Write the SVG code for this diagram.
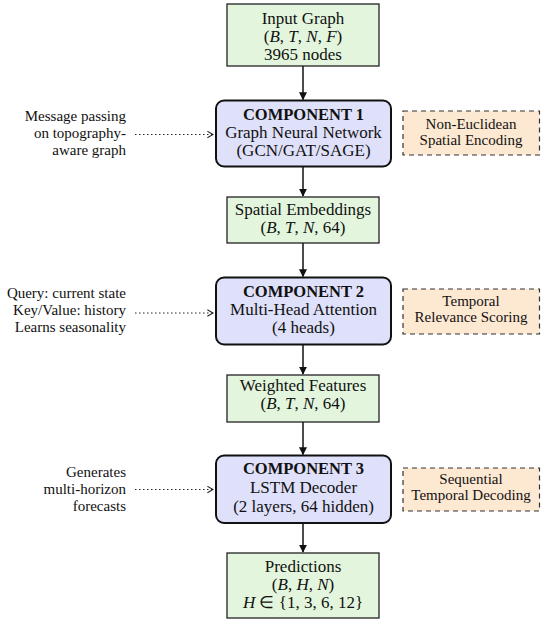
<svg xmlns="http://www.w3.org/2000/svg" width="550" height="627" viewBox="0 0 550 627">
<defs>
<style>
text{font-family:"Liberation Serif","Times New Roman",serif;fill:#111;}
.c{text-anchor:middle;font-size:17px;}
.b{font-weight:bold;font-size:16.5px;}
.s{text-anchor:middle;font-size:15px;}
.l{text-anchor:end;font-size:15px;}
.i{font-style:italic;}
.data{fill:#e3f6dd;stroke:#222;stroke-width:1.3;}
.comp{fill:#dfe0fa;stroke:#111;stroke-width:2;}
.note{fill:#fde8d2;stroke:#333;stroke-width:1.2;stroke-dasharray:5,4;}
.arr{stroke:#111;stroke-width:1.5;fill:none;marker-end:url(#ah);}
.dot{stroke:#222;stroke-width:1;stroke-dasharray:1.5,2.5;fill:none;marker-end:url(#oh);}
</style>
<marker id="ah" viewBox="0 0 10 10" refX="9" refY="5" markerWidth="8" markerHeight="8" markerUnits="userSpaceOnUse" orient="auto"><path d="M0,0 L10,5 L0,10 z" fill="#111"/></marker>
<marker id="oh" viewBox="0 0 10 10" refX="9" refY="5" markerWidth="8" markerHeight="8" markerUnits="userSpaceOnUse" orient="auto"><path d="M2,1 L9,5 L2,9" fill="none" stroke="#222" stroke-width="1.3"/></marker>
</defs>
<g id="connectors">
<line class="arr" x1="303" y1="66" x2="303" y2="99.5"/>
<line class="arr" x1="303" y1="166.5" x2="303" y2="196"/>
<line class="arr" x1="303" y1="243" x2="303" y2="276.5"/>
<line class="arr" x1="303" y1="344.5" x2="303" y2="374"/>
<line class="arr" x1="303" y1="422" x2="303" y2="454.5"/>
<line class="arr" x1="303" y1="523" x2="303" y2="552"/>
<line class="dot" x1="135" y1="134.5" x2="213" y2="134.5"/>
<line class="dot" x1="135" y1="313" x2="213" y2="313"/>
<line class="dot" x1="135" y1="489.5" x2="213" y2="489.5"/>
</g>
<g id="input-graph">
<rect class="data" x="227" y="4" width="152" height="62"/>
<text class="c" x="303" y="24">Input Graph</text>
<text class="c" x="303" y="42">(<tspan class="i">B</tspan>, <tspan class="i">T</tspan>, <tspan class="i">N</tspan>, <tspan class="i">F</tspan>)</text>
<text class="c" x="303" y="60">3965 nodes</text>
</g>
<g id="component1">
<rect class="comp" x="216" y="100.5" width="175" height="66" rx="8"/>
<text class="c b" x="303.5" y="120">COMPONENT 1</text>
<text class="c" x="303.5" y="137.5">Graph Neural Network</text>
<text class="c" x="303.5" y="155.5">(GCN/GAT/SAGE)</text>
</g>
<g id="note1">
<rect class="note" x="403" y="111" width="136.5" height="44"/>
<text class="s" x="471" y="128.5">Non-Euclidean</text>
<text class="s" x="471" y="144.5">Spatial Encoding</text>
</g>
<g id="label1">
<text class="l" x="126" y="120.5">Message passing</text>
<text class="l" x="126" y="137.5">on topography-</text>
<text class="l" x="126" y="155">aware graph</text>
</g>
<g id="spatial-embeddings">
<rect class="data" x="227" y="197" width="152" height="46"/>
<text class="c" x="303" y="214.5">Spatial Embeddings</text>
<text class="c" x="303" y="232.5">(<tspan class="i">B</tspan>, <tspan class="i">T</tspan>, <tspan class="i">N</tspan>, 64)</text>
</g>
<g id="component2">
<rect class="comp" x="216" y="277.5" width="175" height="67" rx="8"/>
<text class="c b" x="303.5" y="296.5">COMPONENT 2</text>
<text class="c" x="303.5" y="314.5">Multi-Head Attention</text>
<text class="c" x="303.5" y="333">(4 heads)</text>
</g>
<g id="note2">
<rect class="note" x="403" y="289" width="136.5" height="45"/>
<text class="s" x="471" y="305.5">Temporal</text>
<text class="s" x="471" y="321.5">Relevance Scoring</text>
</g>
<g id="label2">
<text class="l" x="126" y="298">Query: current state</text>
<text class="l" x="126" y="315">Key/Value: history</text>
<text class="l" x="126" y="332">Learns seasonality</text>
</g>
<g id="weighted-features">
<rect class="data" x="227" y="375" width="152" height="47"/>
<text class="c" x="303" y="391">Weighted Features</text>
<text class="c" x="303" y="408.5">(<tspan class="i">B</tspan>, <tspan class="i">T</tspan>, <tspan class="i">N</tspan>, 64)</text>
</g>
<g id="component3">
<rect class="comp" x="216" y="455.5" width="175" height="67.5" rx="8"/>
<text class="c b" x="303.5" y="474">COMPONENT 3</text>
<text class="c" x="303.5" y="492.5">LSTM Decoder</text>
<text class="c" x="303.5" y="512">(2 layers, 64 hidden)</text>
</g>
<g id="note3">
<rect class="note" x="403" y="468" width="136.5" height="43"/>
<text class="s" x="471" y="484">Sequential</text>
<text class="s" x="471" y="500">Temporal Decoding</text>
</g>
<g id="label3">
<text class="l" x="126" y="477">Generates</text>
<text class="l" x="126" y="494">multi-horizon</text>
<text class="l" x="126" y="511">forecasts</text>
</g>
<g id="predictions">
<rect class="data" x="227" y="553" width="152" height="65"/>
<text class="c" x="303" y="572">Predictions</text>
<text class="c" x="303" y="590">(<tspan class="i">B</tspan>, <tspan class="i">H</tspan>, <tspan class="i">N</tspan>)</text>
<text class="c" x="303" y="608"><tspan class="i">H</tspan> ∈ {1, 3, 6, 12}</text>
</g>
</svg>
